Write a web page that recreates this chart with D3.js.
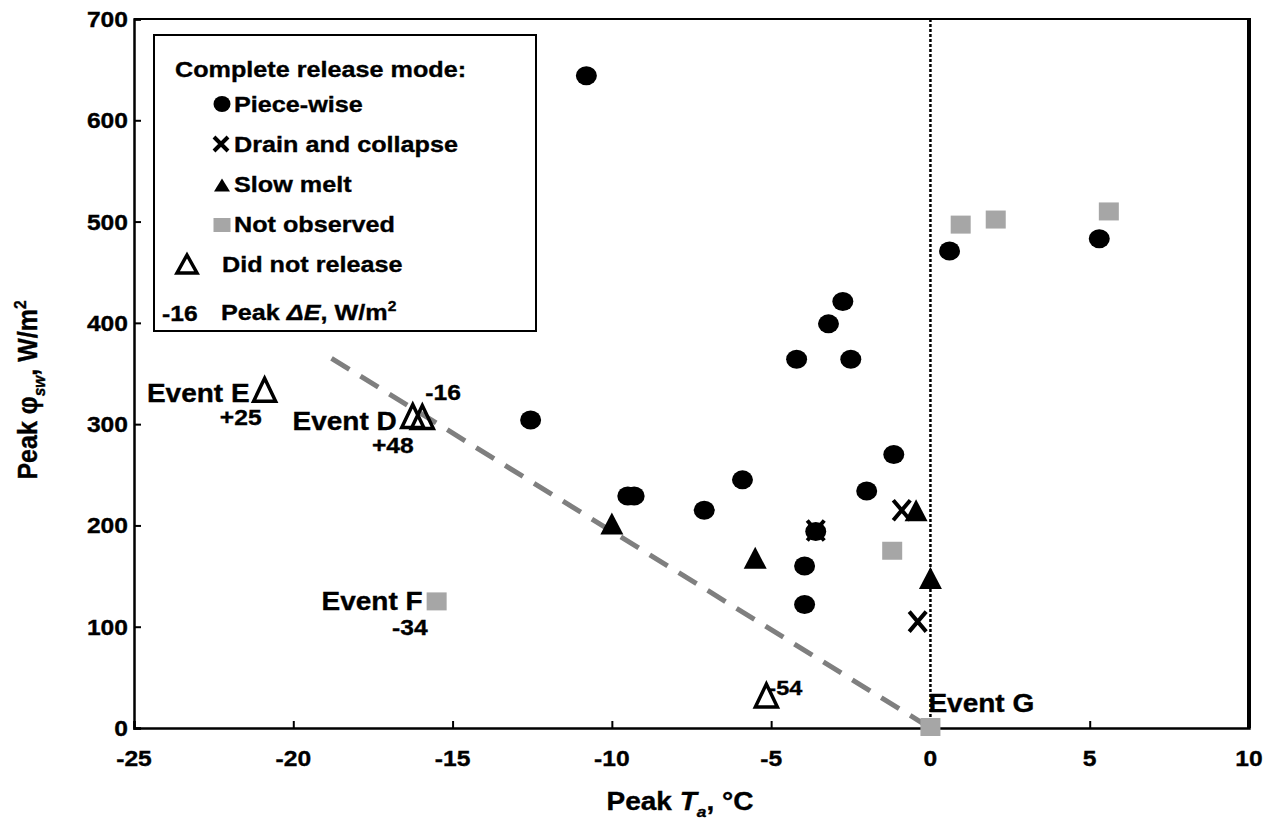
<!DOCTYPE html>
<html><head><meta charset="utf-8">
<script src="https://cdn.jsdelivr.net/npm/d3@7"></script>
<style>
body{margin:0;background:#fff}
text{font-family:"Liberation Sans",Arial,sans-serif;font-weight:bold;fill:#000;stroke:#000;stroke-width:0.35px}
</style>
</head><body>
<svg id="c" width="1281" height="828"></svg>
<script>
// ---- data ----
const xTicks = [-25, -20, -15, -10, -5, 0, 5, 10];
const yTicks = [0, 100, 200, 300, 400, 500, 600, 700];
const xTickLabels = ["-25", "-20", "-15", "-10", "-5", "0", "5", "10"];
const yTickLabels = ["0", "100", "200", "300", "400", "500", "600", "700"];

const pieceX = [-10.8, -12.55, -9.5, -9.3, -7.1, -5.9, -4.2, -3.2, -2.75, -2.5, -1.15, -2.0, -3.6, -3.95, -3.95, 0.6, 5.3];
const pieceY = [644, 304, 229, 229, 215, 245, 364, 399, 421, 364, 270, 234, 194, 160, 122, 471, 483];

const drainX = [-3.6, -0.9, -0.4];
const drainY = [195, 215, 105];

const slowX = [-10.0, -5.5, -0.45, 0.0];
const slowY = [202, 168, 215, 148];

const notObsX = [-15.5, -1.2, 0.0, 0.95, 2.05, 5.6];
const notObsY = [125, 175, 1, 497, 502, 510];

const noRelX = [-20.9, -16.25, -15.95, -5.15];
const noRelY = [334, 308, 307, 32];

const trendX = [-18.8, 0];
const trendY = [365, 0];

const legendLabels = ["Piece-wise", "Drain and collapse", "Slow melt", "Not observed"];

// ---- setup ----
const SX = 1.12;
const svg = d3.select("#c");
const L = 134, R = 1249, T = 19, B = 728;
const x = d3.scaleLinear().domain([-25, 10]).range([L, R]);
const y = d3.scaleLinear().domain([0, 700]).range([B, T]);
const GRAY = "#a6a6a6";

function addParts(t, parts, size) {
  let shift = 0;
  parts.forEach(p => {
    if (typeof p === "string") p = {t: p};
    const ts = t.append("tspan").text(p.t);
    let target = 0, fs = size;
    if (p.sub) { target = size * 0.28; fs = size * 0.62; }
    if (p.sup) { target = -size * 0.38; fs = size * 0.62; }
    ts.attr("font-size", fs);
    if (target !== shift) { ts.attr("dy", target - shift); shift = target; }
    if (p.it) ts.attr("font-style", "italic");
  });
}
function label(parent, px, py, parts, size, anchor) {
  const g = parent.append("g").attr("transform", `translate(${px},${py}) scale(${SX},1)`);
  const t = g.append("text").attr("font-size", size).attr("text-anchor", anchor || "start");
  addParts(t, parts, size);
  return g;
}
function vlabel(parent, px, py, parts, size) {
  const g = parent.append("g").attr("transform", `translate(${px},${py}) rotate(-90) scale(1,${SX})`);
  const t = g.append("text").attr("font-size", size).attr("text-anchor", "middle");
  addParts(t, parts, size);
}

// markers
function circle(g, cx, cy, rx, ry) {
  g.append("ellipse").attr("cx", cx).attr("cy", cy).attr("rx", rx).attr("ry", ry).attr("fill", "#000");
}
function cross(g, cx, cy, w, h) {
  g.append("path").attr("d", `M${cx-w/2},${cy-h/2}L${cx+w/2},${cy+h/2}M${cx-w/2},${cy+h/2}L${cx+w/2},${cy-h/2}`)
    .attr("stroke", "#000").attr("stroke-width", 4).attr("fill", "none");
}
function tri(g, cx, cy, w, h, open) {
  const p = g.append("path").attr("d", `M${cx},${cy-h/2}L${cx+w/2},${cy+h/2}L${cx-w/2},${cy+h/2}Z`);
  if (open) p.attr("fill", "none").attr("stroke", "#000").attr("stroke-width", 3.5).attr("stroke-linejoin", "miter");
  else p.attr("fill", "#000");
}
function square(g, cx, cy, w, h) {
  g.append("rect").attr("x", cx - w/2).attr("y", cy - h/2).attr("width", w).attr("height", h).attr("fill", GRAY);
}

// ---- frame ----
svg.append("line").attr("x1", L).attr("x2", R).attr("y1", T).attr("y2", T).attr("stroke", "#000").attr("stroke-width", 2);
svg.append("line").attr("x1", R).attr("x2", R).attr("y1", T - 1).attr("y2", B).attr("stroke", "#000").attr("stroke-width", 4);

// vertical dotted line at 0
svg.append("line").attr("x1", x(0)).attr("x2", x(0)).attr("y1", T).attr("y2", B)
  .attr("stroke", "#000").attr("stroke-width", 2.5).attr("stroke-dasharray", "3,2");

// trend dashed line
svg.append("path").datum(trendX.map((v, i) => [v, trendY[i]]))
  .attr("d", d3.line().x(d => x(d[0])).y(d => y(d[1])))
  .attr("stroke", "#7f7f7f").attr("stroke-width", 5).attr("stroke-dasharray", "21,13").attr("fill", "none");

// axes
const xAxis = svg.append("g").attr("transform", `translate(0,${B})`)
  .call(d3.axisBottom(x).tickValues(xTicks).tickSize(-7).tickFormat(""));
const yAxis = svg.append("g").attr("transform", `translate(${L},0)`)
  .call(d3.axisLeft(y).tickValues(yTicks).tickSize(-7).tickFormat(""));
[xAxis, yAxis].forEach(a => {
  a.select(".domain").attr("stroke", "#000").attr("stroke-width", 2.5);
  a.selectAll(".tick line").attr("stroke", "#000").attr("stroke-width", 2);
});
xTicks.forEach((v, i) => label(svg, x(v), 766, [xTickLabels[i]], 22, "middle"));
yTicks.forEach((v, i) => label(svg, 128, y(v) + 8, [yTickLabels[i]], 22, "end"));

// axis titles
label(svg, 680, 810, ["Peak ", {t: "T", it: 1}, {t: "a", it: 1, sub: 1}, {t: ", °C"}], 25, "middle");
vlabel(svg, 37, 390, ["Peak ", {t: "φ"}, {t: "sw", it: 1, sub: 1}, {t: ", W/m"}, {t: "2", sup: 1}], 25);

// ---- points ----
const pg = svg.append("g");
pieceX.forEach((v, i) => circle(pg, x(v), y(pieceY[i]), 10.5, 9.5));
drainX.forEach((v, i) => cross(pg, x(v), y(drainY[i]), 17, 20));
slowX.forEach((v, i) => tri(pg, x(v), y(slowY[i]), 23, 22, false));
notObsX.forEach((v, i) => square(pg, x(v), y(notObsY[i]), 20, 18));
noRelX.forEach((v, i) => tri(pg, x(v), y(noRelY[i]), 22, 23, true));

// ---- annotations ----
const ag = svg.append("g");
const eX = x(noRelX[0]), eY = y(noRelY[0]);
label(ag, eX - 15, eY + 12, ["Event E"], 25, "end");
label(ag, eX - 3, eY + 35, ["+25"], 22, "end");
const dX = x(noRelX[1]), dY = y(noRelY[1]);
label(ag, dX - 16, dY + 14, ["Event D"], 25, "end");
label(ag, dX + 1, dY + 37, ["+48"], 22, "end");
label(ag, x(noRelX[2]) + 3, dY - 16, ["-16"], 22, "start");
const fX = x(notObsX[0]), fY = y(notObsY[0]);
label(ag, fX - 14, fY + 9, ["Event F"], 25, "end");
label(ag, fX - 9, fY + 34, ["-34"], 22, "end");
const nX = x(noRelX[3]), nY = y(noRelY[3]);
label(ag, nX + 2, nY - 1, ["-54"], 21, "start");
label(ag, x(notObsX[2]) - 2, y(notObsY[2]) - 15, ["Event G"], 25, "start");

// ---- legend ----
const lg = svg.append("g");
lg.append("rect").attr("x", 154).attr("y", 35).attr("width", 382).attr("height", 296)
  .attr("fill", "#fff").attr("stroke", "#000").attr("stroke-width", 2);
label(lg, 175, 77, ["Complete release mode:"], 22.5, "start");
const rowY = [112, 152, 192, 232];
circle(lg, 222, rowY[0] - 8, 8.5, 8);
cross(lg, 221, rowY[1] - 8, 14, 14);
tri(lg, 222, rowY[2] - 7, 16, 13, false);
square(lg, 222, rowY[3] - 7, 17, 14);
legendLabels.forEach((t, i) => label(lg, 234, rowY[i], [t], 22.5, "start"));
tri(lg, 187, 264, 20, 18, true);
label(lg, 222, 272, ["Did not release"], 22.5, "start");
label(lg, 162, 321, ["-16"], 22, "start");
label(lg, 221, 320, ["Peak ", {t: "ΔE", it: 1}, ", W/m", {t: "2", sup: 1}], 22.5, "start");
</script>
</body></html>
